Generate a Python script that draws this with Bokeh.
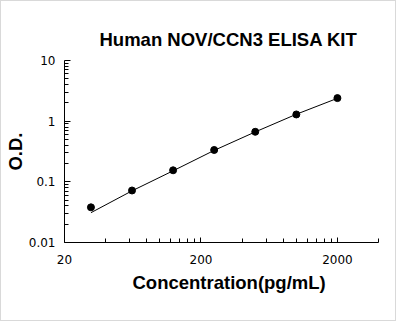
from bokeh.plotting import figure
from bokeh.models import FixedTicker, Title
from bokeh.embed import file_html
from bokeh.resources import INLINE

# Standard curve readings
conc = [31.25, 62.5, 125, 250, 500, 1000, 2000]
od = [0.038, 0.072, 0.155, 0.335, 0.668, 1.29, 2.40]

# Fitted curve through the standards
fit_conc = [31.25, 62.5, 125, 250, 500, 1000, 2000]
fit_od = [0.031, 0.071, 0.152, 0.330, 0.665, 1.30, 2.38]

x_major = [20, 200, 2000]
x_labels = {20: "20", 200: "200", 2000: "2000"}
y_major = [0.01, 0.1, 1, 10]
y_labels = {0.01: "0.01", 0.1: "0.1", 1: "1", 10: "10"}

x_minor = [m * d for d in (10, 100) for m in (4, 6, 8, 10, 12, 14, 16, 18)] + [4000]
y_minor = [m * d for d in (0.01, 0.1, 1) for m in range(2, 10)]

p = figure(width=396, height=321, x_axis_type="log", y_axis_type="log",
           x_range=(20, 4000), y_range=(0.01, 10),
           output_backend="svg", toolbar_location=None,
           min_border_left=62, min_border_top=59,
           min_border_right=19, min_border_bottom=80)
p.styles = {"border": "1px solid #d9d9d9"}
p.outline_line_color = None
p.grid.visible = False
p.background_fill_color = "white"
p.border_fill_color = "white"

p.title = Title(text="Human NOV/CCN3 ELISA KIT", align="left", offset=35,
                text_font="Liberation Sans", text_font_size="18.5px",
                text_font_style="bold", text_color="black", standoff=22)

for ax in (p.xaxis[0], p.yaxis[0]):
    ax.axis_line_color = "black"
    ax.axis_line_width = 1
    ax.major_tick_out = 0
    ax.minor_tick_out = 0
    ax.major_tick_line_color = "black"
    ax.minor_tick_line_color = "black"
    ax.major_label_text_font = "DejaVu Sans"
    ax.major_label_text_font_size = "12px"
    ax.major_label_text_color = "black"

p.xaxis.major_tick_in = 5
p.xaxis.minor_tick_in = 4
p.yaxis.major_tick_in = 6
p.yaxis.minor_tick_in = 4

p.xaxis.ticker = FixedTicker(ticks=x_major, minor_ticks=x_minor)
p.xaxis.major_label_overrides = x_labels
p.xaxis.major_label_standoff = 12

p.yaxis.ticker = FixedTicker(ticks=y_major, minor_ticks=y_minor)
p.yaxis.major_label_overrides = y_labels
p.yaxis.major_label_standoff = 9
p.yaxis.axis_label = "O.D."
p.yaxis.axis_label_text_font = "Liberation Sans"
p.yaxis.axis_label_text_font_size = "18.5px"
p.yaxis.axis_label_text_font_style = "bold"
p.yaxis.axis_label_text_color = "black"
p.yaxis.axis_label_standoff = 0

p.add_layout(Title(text="Concentration(pg/mL)", align="left", offset=68,
                   text_font="Liberation Sans", text_font_size="18.5px",
                   text_font_style="bold", text_color="black", standoff=7), "below")

p.line(fit_conc, fit_od, line_color="black", line_width=1)
p.scatter(conc, od, size=7, fill_color="black", line_color="black")

open("out.html", "w").write(file_html(p, INLINE))
